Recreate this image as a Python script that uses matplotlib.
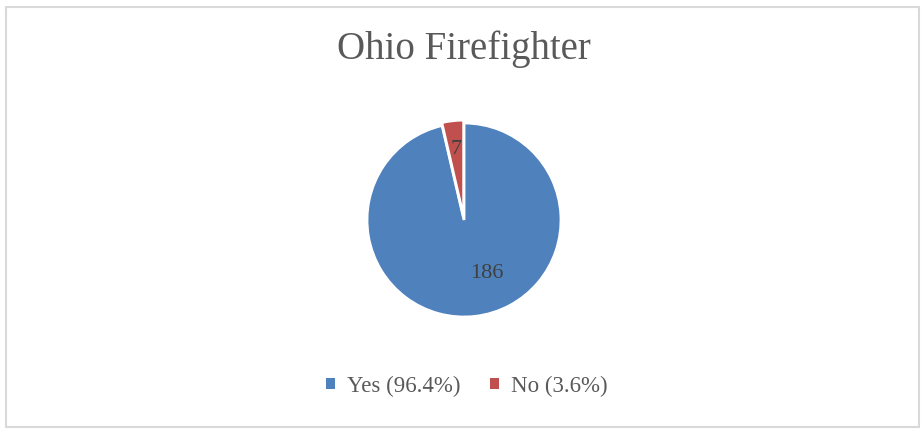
import numpy as np
import matplotlib.pyplot as plt
from matplotlib.patches import Rectangle

# data
categories = ['Yes', 'No']
counts = [186, 7]
legend_labels = ['Yes (96.4%)', 'No (3.6%)']
colors = ['#4F81BD', '#C0504D']

plt.rcParams['font.family'] = ['Liberation Serif', 'DejaVu Serif']

fig = plt.figure(figsize=(9.24, 4.33), dpi=100)

# outer chart frame
fig.patches.append(Rectangle((6 / 924, 6 / 433), 913 / 924, 420 / 433,
                             transform=fig.transFigure, fill=False,
                             edgecolor='#D9D9D9', linewidth=1.5))

fig.text(0.502, 0.887, 'Ohio Firefighter', ha='center', va='center',
         fontsize=28, color='#595959')

# pie axes: centre ~ (464, 220) px, radius ~ 96 px
r_px = 97
ax = fig.add_axes([(464 - r_px) / 924, (433 - 220 - r_px) / 433,
                   2 * r_px / 924, 2 * r_px / 433])
wedges, _ = ax.pie(counts, colors=colors, startangle=90, counterclock=False,
                   explode=[0, 0.03], radius=1.0,
                   wedgeprops=dict(edgecolor='white', linewidth=2))
ax.set_xlim(-1, 1)
ax.set_ylim(-1, 1)
ax.set_aspect('equal')
ax.axis('off')

# value labels
dists = [0.6, 0.73]
offsets = [17, 0]  # Excel nudges the big slice's label a bit
for w, c, d, off in zip(wedges, counts, dists, offsets):
    mid = np.deg2rad((w.theta1 + w.theta2) / 2 + off)
    ax.text(d * np.cos(mid), d * np.sin(mid), str(c), ha='center',
            va='center', fontsize=16, color='#404040')

handles = [Rectangle((0, 0), 1, 1, facecolor=c) for c in colors]
fig.legend(handles, legend_labels, loc='center', bbox_to_anchor=(0.505, 0.108),
           ncol=2, frameon=False, fontsize=16.5, labelcolor='#595959',
           handlelength=0.4, handleheight=0.4, handletextpad=0.5,
           columnspacing=1.3)

fig.savefig('out.png', dpi=100)
